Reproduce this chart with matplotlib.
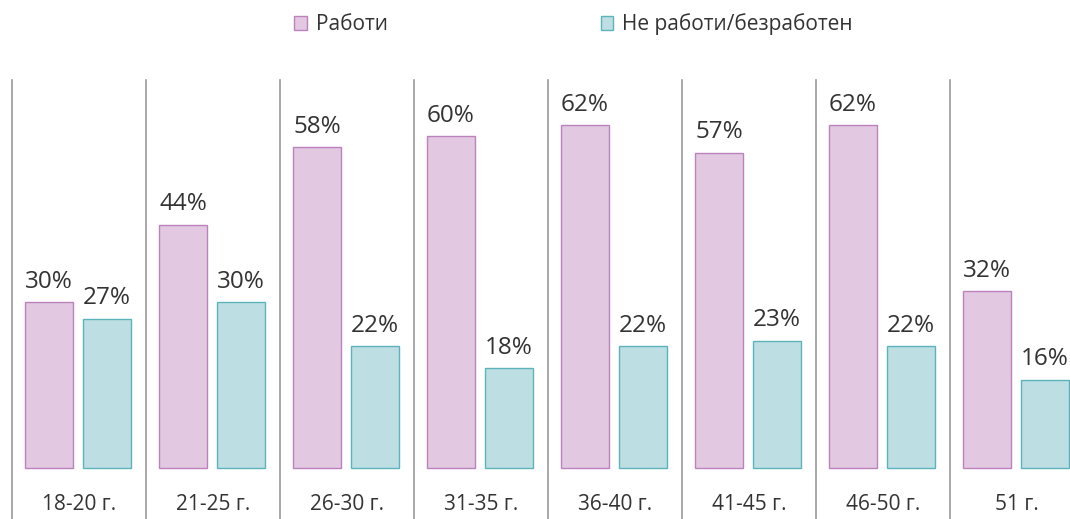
import matplotlib.pyplot as plt
from matplotlib.patches import Patch

categories = ['18-20 г.', '21-25 г.', '26-30 г.', '31-35 г.', '36-40 г.', '41-45 г.', '46-50 г.', '51 г.']
works = [30, 44, 58, 60, 62, 57, 62, 32]
not_works = [27, 30, 22, 18, 22, 23, 22, 16]
series_names = ['Работи', 'Не работи/безработен']

pink_fill, pink_edge = '#E2C8E0', '#BB82BE'
teal_fill, teal_edge = '#BDDFE3', '#5DB3BC'
text_color = '#333333'

plt.rcParams['font.family'] = ['Open Sans', 'DejaVu Sans']

fig = plt.figure(figsize=(10.7, 5.19), dpi=100)
ax = fig.add_axes([0, 0, 1, 1])

width = 0.358
for i, (w, n) in enumerate(zip(works, not_works)):
    ax.bar(i + 0.276, w, width, color=pink_fill, edgecolor=pink_edge, linewidth=1)
    ax.bar(i + 0.709, n, width, color=teal_fill, edgecolor=teal_edge, linewidth=1)
    ax.annotate(f'{w}%', (i + 0.276, w), xytext=(0, 6), textcoords='offset points',
                ha='center', va='bottom', fontsize=17.5, color=text_color)
    ax.annotate(f'{n}%', (i + 0.709, n), xytext=(0, 6), textcoords='offset points',
                ha='center', va='bottom', fontsize=17.5, color=text_color)
    ax.text(i + 0.5, -6.6, categories[i], ha='center', va='center', fontsize=15, color=text_color)
    ax.plot([i, i], [-20, 70.2], color='#9A9A9A', linewidth=1.2)

ax.set_xlim(-12 / 134, 1058 / 134)
ax.set_ylim(-51 / 5.53, 468 / 5.53)
ax.axis('off')

handles = [Patch(facecolor=pink_fill, edgecolor=pink_edge),
           Patch(facecolor=teal_fill, edgecolor=teal_edge)]
fig.legend(handles, series_names, loc='center', bbox_to_anchor=(0.536, 0.953), ncol=2,
           frameon=False, fontsize=15, handlelength=0.6, handleheight=0.6,
           handletextpad=0.45, columnspacing=10.2, labelcolor=text_color)

fig.savefig('out.png', dpi=100)
